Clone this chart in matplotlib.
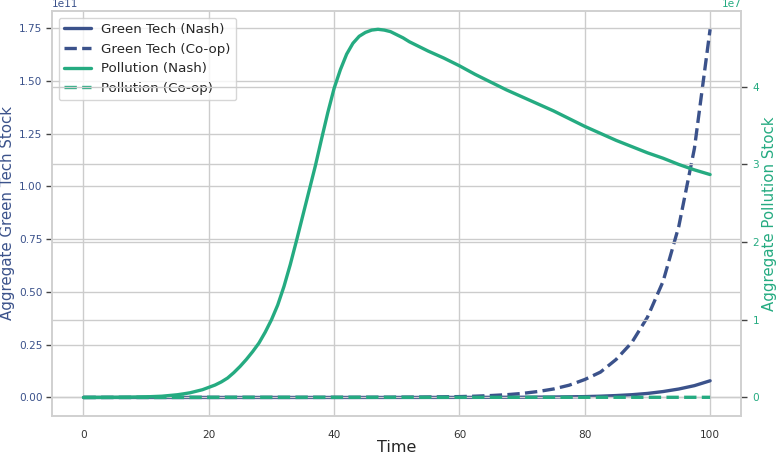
import matplotlib
matplotlib.use("Agg")
import matplotlib.pyplot as plt
import seaborn as sns

# values
time = [0, 2.5, 5, 7.5, 10, 12.5,
        15, 16, 17, 18, 19, 20, 21, 22, 23, 24, 25, 26, 27, 28, 29,
        30, 31, 32, 33, 34, 35, 36, 37, 38, 39, 40, 41, 42, 43, 44,
        45, 46, 47, 48, 49, 50, 51, 52, 53, 54, 55,
        57.5, 60, 62.5, 65, 67.5, 70, 72.5, 75, 77.5, 80, 82.5, 85, 87.5,
        90, 92.5, 95, 97.5, 100]

# aggregate green tech stock (x 1e11)
green_nash = [0, 0, 0, 0, 0, 0,
              0, 0, 0, 0, 0, 0, 0, 0, 0, 0, 0, 0, 0, 0, 0,
              0, 0, 0, 0, 0, 0, 0, 0, 0, 0, 0, 0, 0, 0, 0,
              0, 0, 0, 0, 0, 0.0001, 0.0001, 0.0001, 0.0001, 0.0001, 0.0002,
              0.0002, 0.0003, 0.0004, 0.0006, 0.0008, 0.001, 0.0015, 0.002, 0.003, 0.004, 0.006, 0.009, 0.013,
              0.019, 0.028, 0.040, 0.056, 0.079]
green_coop = [0, 0, 0, 0, 0, 0,
              0, 0, 0, 0, 0, 0, 0, 0, 0, 0, 0, 0, 0, 0, 0,
              0, 0, 0, 0, 0, 0.0001, 0.0001, 0.0001, 0.0001, 0.0002, 0.0002, 0.0002, 0.0003, 0.0003, 0.0004,
              0.0005, 0.0005, 0.0006, 0.0007, 0.0008, 0.001, 0.0011, 0.0013, 0.0015, 0.0017, 0.002,
              0.003, 0.004, 0.006, 0.009, 0.013, 0.019, 0.028, 0.040, 0.058, 0.085, 0.12, 0.18, 0.26,
              0.38, 0.55, 0.81, 1.18, 1.744]

# aggregate pollution stock (x 1e7)
poll_nash = [0, 0.001, 0.002, 0.004, 0.008, 0.016,
             0.035, 0.047, 0.06, 0.08, 0.10, 0.13, 0.16, 0.20, 0.25, 0.32, 0.40, 0.49, 0.59, 0.70, 0.84,
             1.00, 1.19, 1.43, 1.71, 2.02, 2.34, 2.66, 2.98, 3.33, 3.67, 3.98, 4.22, 4.42, 4.56, 4.65,
             4.70, 4.73, 4.74, 4.73, 4.71, 4.67, 4.63, 4.58, 4.54, 4.50, 4.46,
             4.37, 4.27, 4.16, 4.06, 3.96, 3.87, 3.78, 3.69, 3.59, 3.49, 3.40, 3.31, 3.23,
             3.15, 3.08, 3.00, 2.93, 2.87]
poll_coop = [0, 0.0002, 0.0004, 0.0006, 0.0008, 0.001,
             0.0012, 0.0013, 0.0014, 0.0015, 0.0016, 0.0017, 0.0018, 0.0019, 0.002, 0.002, 0.002, 0.002, 0.002, 0.002, 0.002,
             0.002, 0.002, 0.002, 0.002, 0.002, 0.002, 0.002, 0.002, 0.002, 0.002, 0.002, 0.002, 0.002, 0.002, 0.002,
             0.002, 0.002, 0.002, 0.002, 0.002, 0.002, 0.002, 0.002, 0.002, 0.002, 0.002,
             0.002, 0.002, 0.002, 0.002, 0.002, 0.002, 0.002, 0.002, 0.002, 0.002, 0.002, 0.002, 0.002,
             0.002, 0.002, 0.002, 0.002, 0.002]

blue = "#3b528b"
green = "#25ab81"
tick_size = 7.6
label_size = 10.8

sns.set_theme(style="whitegrid")
plt.rcParams["font.family"] = ["DejaVu Sans"]

fig, ax1 = plt.subplots(figsize=(7.78, 4.54), dpi=100)
fig.subplots_adjust(left=0.067, right=0.953, top=0.976, bottom=0.084)

l1, = ax1.plot(time, [v * 1e11 for v in green_nash], color=blue, lw=2.4, label="Green Tech (Nash)")
l2, = ax1.plot(time, [v * 1e11 for v in green_coop], color=blue, lw=2.4, ls="--", label="Green Tech (Co-op)")
ax1.set_xlabel("Time", fontsize=11.5, color="#262626", labelpad=0)
ax1.set_ylabel("Aggregate Green Tech Stock", fontsize=label_size, color=blue, labelpad=3)
ax1.tick_params(axis="y", labelcolor=blue, labelsize=tick_size, left=True, length=4,
                width=1, color="#444444", pad=3)
ax1.tick_params(axis="x", labelsize=tick_size, labelcolor="#333333", pad=4)
ax1.yaxis.get_offset_text().set_color(blue)
ax1.yaxis.get_offset_text().set_fontsize(tick_size)

ax2 = ax1.twinx()
l3, = ax2.plot(time, [v * 1e7 for v in poll_nash], color=green, lw=2.4, label="Pollution (Nash)")
l4, = ax2.plot(time, [v * 1e7 for v in poll_coop], color=green, lw=2.4, ls="--", label="Pollution (Co-op)")
ax2.set_ylabel("Aggregate Pollution Stock", fontsize=label_size, color=green, labelpad=2)
ax2.tick_params(axis="y", labelcolor=green, labelsize=tick_size, right=True, length=4,
                width=1, color="#444444", pad=4)
ax2.yaxis.get_offset_text().set_color(green)
ax2.yaxis.get_offset_text().set_fontsize(tick_size)

for ax in (ax1, ax2):
    for s in ax.spines.values():
        s.set_color("#d0d0d0")
        s.set_linewidth(1.2)

ax1.legend(handles=[l1, l2, l3, l4], loc="upper left", fontsize=9.6,
           frameon=True, borderaxespad=0.5)

plt.savefig("out.png", dpi=100)
